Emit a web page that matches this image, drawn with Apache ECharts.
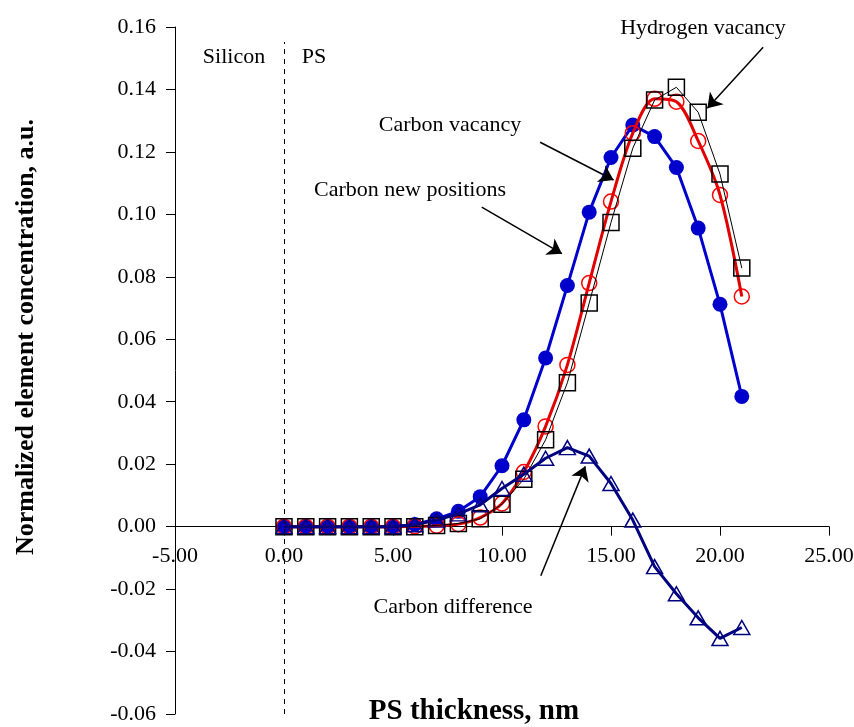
<!DOCTYPE html>
<html lang="en">
<head>
    <meta charset="UTF-8">
    <title>Element concentration vs PS thickness</title>
    <script src="https://cdn.jsdelivr.net/npm/echarts@6/dist/echarts.min.js"></script>
    <style>
        html, body { margin: 0; padding: 0; background: #fff; }
        #main { width: 854px; height: 727px; }
    </style>
</head>
<body>
<div id="main"></div>
<script type="text/javascript">
    // thickness, nm
    var thickness = [0, 1, 2, 3, 4, 5, 6, 7, 8, 9, 10, 11, 12, 13, 14, 15, 16, 17, 18, 19, 20, 21];

    var carbonNew = [0, 0, 0, 0, 0, 0, 0.0007, 0.0025, 0.0049, 0.0096, 0.0195, 0.0342, 0.0540, 0.0772,
        0.1007, 0.1182, 0.1286, 0.1249, 0.1150, 0.0956, 0.0712, 0.0417];
    var carbonVacancy = [0, 0, 0, 0, 0, 0, 0.0001, 0.0003, 0.0008, 0.0029, 0.0074, 0.0175, 0.0321, 0.0518,
        0.0780, 0.1041, 0.1260, 0.1370, 0.1361, 0.1235, 0.1062, 0.0737];
    var hydrogenVacancy = [0, 0, 0, 0, 0, 0, 0, 0.0004, 0.0010, 0.0025, 0.0072, 0.0152, 0.0278, 0.0461,
        0.0716, 0.0974, 0.1212, 0.1366, 0.1407, 0.1327, 0.1129, 0.0828];
    var carbonDiff = [0, 0, 0, 0, 0, 0, 0.0006, 0.0021, 0.0041, 0.0070, 0.0122, 0.0168, 0.0219, 0.0253,
        0.0226, 0.0138, 0.0021, -0.0128, -0.0215, -0.0292, -0.0358, -0.0323];

    var xTicks = [-5, 0, 5, 10, 15, 20, 25];
    var yTicks = [-0.06, -0.04, -0.02, 0, 0.02, 0.04, 0.06, 0.08, 0.10, 0.12, 0.14, 0.16];

    var serif = '"Liberation Serif", "Times New Roman", serif';

    function pairs(ys) {
        return thickness.map(function (x, i) { return [x, ys[i]]; });
    }

    // arrows for the labels, in data coords [tail, tip]
    var arrows = [
        [[21.98, 0.1535], [19.42, 0.1340]],
        [[11.75, 0.1231], [15.12, 0.1110]],
        [[9.07, 0.1023], [12.75, 0.0874]],
        [[11.78, -0.0157], [13.82, 0.0193]]
    ];

    var gridTop = 27, gridBottom = 13, chartH = 727;
    var plotH = chartH - gridTop - gridBottom;
    // distance of y=0 above the bottom of the plot
    var zeroLift = plotH * (0 - yTicks[0]) / (yTicks[yTicks.length - 1] - yTicks[0]);

    var myChart = echarts.init(document.getElementById('main'));

    function txt(s, x, y) {
        return { type: 'text', x: x, y: y, style: { text: s, fill: '#000', font: '22px ' + serif, align: 'center', verticalAlign: 'middle' } };
    }

    var option = {
        animation: false,
        backgroundColor: '#fff',
        grid: { left: 175, right: 25, top: gridTop, bottom: gridBottom, containLabel: false, outerBoundsMode: 'none' },
        xAxis: {
            type: 'value',
            position: 'bottom',
            offset: -zeroLift,
            min: xTicks[0],
            max: xTicks[xTicks.length - 1],
            interval: 5,
            axisLine: { onZero: false, lineStyle: { color: '#000', width: 1 } },
            axisTick: { show: true, length: 9, lineStyle: { color: '#000' } },
            splitLine: { show: false },
            axisLabel: {
                margin: 19,
                hideOverlap: false,
                color: '#000', fontFamily: serif, fontSize: 22,
                formatter: function (v) { return v.toFixed(2); }
            }
        },
        yAxis: {
            type: 'value',
            min: yTicks[0],
            max: yTicks[yTicks.length - 1],
            interval: 0.02,
            axisLine: { show: true, onZero: false, lineStyle: { color: '#000', width: 1 } },
            axisTick: { show: true, length: 9, lineStyle: { color: '#000' } },
            splitLine: { show: false },
            axisLabel: {
                margin: 19,
                color: '#000', fontFamily: serif, fontSize: 22,
                formatter: function (v) { return v.toFixed(2); }
            }
        },
        graphic: [
            {
                type: 'text', x: 26, y: 337, rotation: Math.PI / 2,
                style: {
                    text: 'Normalized element concentration, a.u.',
                    fill: '#000', font: 'bold 26px ' + serif,
                    align: 'center', verticalAlign: 'middle'
                }
            },
            {
                type: 'text', x: 474, y: 712,
                style: {
                    text: 'PS thickness, nm',
                    fill: '#000', font: 'bold 29px ' + serif,
                    align: 'center', verticalAlign: 'middle'
                }
            },
            txt('Silicon', 234, 57),
            txt('PS', 314, 57),
            txt('Hydrogen vacancy', 703, 28),
            txt('Carbon vacancy', 450, 125),
            txt('Carbon new positions', 410, 190),
            txt('Carbon difference', 453, 607)
        ],
        series: [
            {
                name: 'Carbon new positions',
                type: 'line',
                data: pairs(carbonNew),
                symbol: 'circle',
                symbolSize: 15,
                itemStyle: { color: '#0000CC' },
                lineStyle: { color: '#0000CC', width: 3 },
                z: 2
            },
            {
                name: 'Carbon vacancy',
                type: 'line',
                data: pairs(carbonVacancy),
                smooth: 0.3,
                symbol: 'circle',
                symbolSize: 15,
                itemStyle: { color: 'rgba(0,0,0,0)', borderColor: '#FF0000', borderWidth: 1.5 },
                lineStyle: { color: '#E00000', width: 3 },
                z: 3
            },
            {
                name: 'Hydrogen vacancy',
                type: 'line',
                data: pairs(hydrogenVacancy),
                symbol: 'rect',
                symbolSize: 16,
                itemStyle: { color: 'rgba(0,0,0,0)', borderColor: '#000', borderWidth: 1.5 },
                lineStyle: { color: '#000', width: 1 },
                z: 4
            },
            {
                name: 'Carbon difference',
                type: 'line',
                data: pairs(carbonDiff),
                symbol: 'triangle',
                symbolSize: [16, 14],
                itemStyle: { color: 'rgba(0,0,0,0)', borderColor: '#000080', borderWidth: 1.5 },
                lineStyle: { color: '#000080', width: 3 },
                z: 5,
                markLine: {
                    silent: true,
                    animation: false,
                    symbol: ['none', 'arrow'],
                    symbolSize: 14,
                    label: { show: false },
                    lineStyle: { color: '#000', width: 1.5, type: 'solid' },
                    data: arrows.map(function (a) {
                        return [{ coord: a[0] }, { coord: a[1] }];
                    }).concat([[
                        { coord: [0, yTicks[0]], symbol: 'none', lineStyle: { color: '#000', width: 1, type: [5, 5] } },
                        { coord: [0, 0.1552], symbol: 'none' }
                    ]])
                }
            }
        ]
    };

    myChart.setOption(option);
</script>
</body>
</html>
